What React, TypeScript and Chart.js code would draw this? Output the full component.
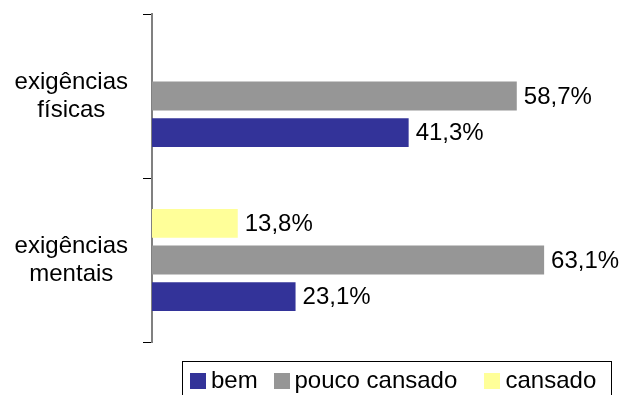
import React, { useEffect, useRef } from 'react';
import { Chart, registerables } from 'chart.js';

Chart.register(...registerables);

const categories = [['exigências', 'físicas'], ['exigências', 'mentais']];
const seriesNames = ['bem', 'pouco cansado', 'cansado'];
const bem = [41.3, 23.1];
const poucoCansado = [58.7, 63.1];
const cansado = [0, 13.8];
const seriesColors = ['#333399', '#969696', '#FFFF99'];
const xMin = 0;
const xMax = 70;

const FONT = '"Liberation Sans", Arial, sans-serif';

const valueLabels = {
  id: 'valueLabels',
  afterDatasetsDraw(chart: any) {
    const ctx = chart.ctx;
    ctx.save();
    ctx.font = `24px ${FONT}`;
    ctx.fillStyle = '#000';
    ctx.textBaseline = 'middle';
    ctx.textAlign = 'left';
    chart.data.datasets.forEach((ds: any, i: number) => {
      const meta = chart.getDatasetMeta(i);
      meta.data.forEach((bar: any, j: number) => {
        const v = ds.data[j];
        if (!v) return;
        ctx.fillText(v.toFixed(1).replace('.', ',') + '%', bar.x + 7, bar.y + 1);
      });
    });
    ctx.restore();
  },
};

function App() {
  const canvasRef = useRef<HTMLCanvasElement | null>(null);

  useEffect(() => {
    const canvas = canvasRef.current;
    if (!canvas) return;
    const chart = new Chart(canvas, {
      type: 'bar',
      data: {
        labels: categories,
        datasets: [
          { label: seriesNames[2], data: cansado, backgroundColor: seriesColors[2] },
          { label: seriesNames[1], data: poucoCansado, backgroundColor: seriesColors[1] },
          { label: seriesNames[0], data: bem, backgroundColor: seriesColors[0] },
        ],
      },
      options: {
        indexAxis: 'y',
        responsive: false,
        animation: false,
        devicePixelRatio: 1,
        categoryPercentage: 0.67,
        barPercentage: 0.79,
        layout: { padding: { top: 14, bottom: 53, left: 0, right: 37 } },
        plugins: {
          legend: { display: false },
          tooltip: { enabled: false },
          title: { display: false },
        },
        scales: {
          x: { display: false, min: xMin, max: xMax },
          y: {
            grid: {
              drawOnChartArea: false,
              color: '#000',
              tickLength: 9,
              offset: true,
            },
            border: { display: true, color: '#808080', width: 2 },
            ticks: {
              color: '#000',
              font: { family: FONT, size: 24, lineHeight: 1.17 },
              crossAlign: 'center',
              padding: 15,
            },
            afterFit(scale: any) {
              scale.width = 152;
              scale.paddingTop = 0;
              scale.paddingBottom = 0;
            },
          },
        },
      } as any,
      plugins: [valueLabels],
    });
    return () => chart.destroy();
  }, []);

  const legendText: React.CSSProperties = {
    position: 'absolute',
    top: 368,
    fontFamily: FONT,
    fontSize: 24,
    lineHeight: '24px',
    color: '#000',
    whiteSpace: 'nowrap',
  };
  const sq = (left: number, color: string): React.CSSProperties => ({
    position: 'absolute',
    left,
    top: 373,
    width: 16,
    height: 16,
    background: color,
  });

  return (
    <div
      style={{
        position: 'absolute',
        left: 0,
        top: 0,
        width: 624,
        height: 395,
        overflow: 'hidden',
        background: '#fff',
      }}
    >
      <canvas ref={canvasRef} width={624} height={395} style={{ display: 'block' }} />
      <div
        style={{
          position: 'absolute',
          left: 182,
          top: 361,
          width: 430,
          height: 60,
          border: '1px solid #000',
          boxSizing: 'border-box',
        }}
      />
      <div style={sq(190, seriesColors[0])} />
      <div style={{ ...legendText, left: 211 }}>{seriesNames[0]}</div>
      <div style={sq(274, seriesColors[1])} />
      <div style={{ ...legendText, left: 294.5 }}>{seriesNames[1]}</div>
      <div style={sq(484, seriesColors[2])} />
      <div style={{ ...legendText, left: 505.5 }}>{seriesNames[2]}</div>
    </div>
  );
}

export default App;
